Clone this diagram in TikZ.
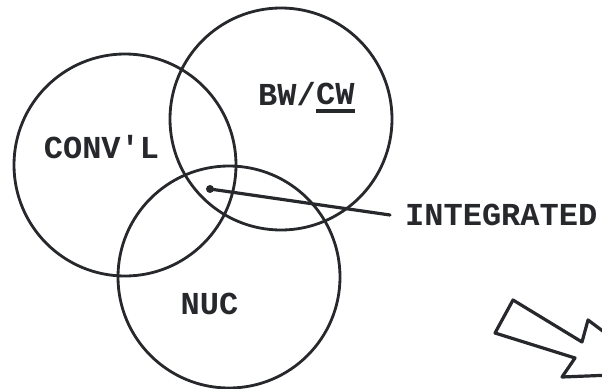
\documentclass[tikz,border=0pt]{standalone}
\usepackage{fontspec}
\setmonofont{Liberation Mono}
\definecolor{ink}{RGB}{38,40,44}
\tikzset{
  ring/.style={circle, draw=ink, line width=2.8pt, minimum size=222pt, inner sep=0pt},
  lbl/.style={text=ink, inner sep=0pt, font=\fontsize{32}{32}\selectfont\ttfamily\bfseries},
}
\begin{document}
\begin{tikzpicture}[x=1pt,y=-1pt]
\useasboundingbox (0,0) rectangle (602,388);
\clip (0,0) rectangle (602,388);
\fill[white] (0,0) rectangle (602,388);
% circles
\node[ring] (conv) at (125,165) {};
\node[ring] (bwcw) at (281,119) {};
\node[ring] (nuc)  at (229,277) {};
% labels
\node[lbl] (convl) at (101.5,147) {CONV'L};
\node[lbl, anchor=east] (bw) at (316,94) {BW/};
\node[lbl, anchor=west] (cw) at (bw.east) {CW};
\draw[ink, line width=3.2pt] ([yshift=-6pt]cw.south west) -- ([yshift=-6pt]cw.south east);
\node[lbl] (nuclbl) at (209.5,304) {NUC};
\node[lbl, anchor=west] (integ) at (405,215) {INTEGRATED};
% leader
\node[circle, fill=ink, minimum size=8pt, inner sep=0pt] (dot) at (210,189) {};
\coordinate (lend) at (390,215);
\draw[ink, line width=3.2pt, line cap=round] (dot.center) -- (lend);
% hollow arrow
\draw[ink, line width=3.2pt, line join=round]
  (612,338) -- (588,320) -- (582,342) -- (513,300) -- (495,333)
  -- (575,358) -- (562,377) -- (612,375);
\end{tikzpicture}
\end{document}
